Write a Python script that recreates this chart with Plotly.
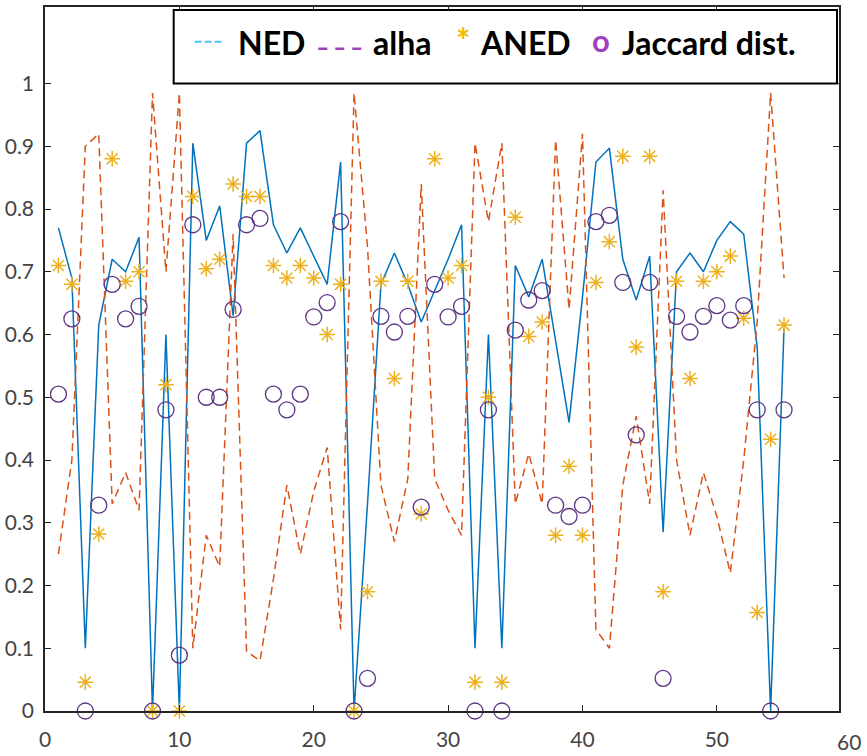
import plotly.graph_objects as go

# ---------------- data ----------------
x_vals = list(range(1, 56))

ned = [0.77, 0.69, 0.10, 0.615, 0.72, 0.70, 0.755, 0.0, 0.60, 0.0,
       0.905, 0.75, 0.805, 0.63, 0.905, 0.925, 0.775, 0.73, 0.77, 0.725,
       0.68, 0.875, 0.0, 0.33, 0.68, 0.73, 0.68, 0.62, 0.67, 0.72,
       0.775, 0.10, 0.60, 0.10, 0.71, 0.66, 0.72, 0.59, 0.46, 0.66,
       0.875, 0.897, 0.72, 0.655, 0.725, 0.285, 0.70, 0.73, 0.70, 0.75,
       0.78, 0.76, 0.58, 0.0, 0.61]

alha = [0.25, 0.40, 0.90, 0.92, 0.33, 0.38, 0.32, 0.985, 0.70, 0.985,
        0.10, 0.28, 0.23, 0.76, 0.095, 0.08, 0.21, 0.36, 0.25, 0.35,
        0.42, 0.13, 0.985, 0.74, 0.36, 0.27, 0.37, 0.84, 0.37, 0.32,
        0.28, 0.905, 0.78, 0.905, 0.33, 0.41, 0.33, 0.91, 0.64, 0.92,
        0.13, 0.10, 0.36, 0.47, 0.33, 0.83, 0.40, 0.28, 0.38, 0.31,
        0.22, 0.40, 0.62, 0.985, 0.69]

aned = [0.71, 0.68, 0.046, 0.282, 0.88, 0.685, 0.70, 0.0, 0.52, 0.0,
        0.82, 0.705, 0.72, 0.84, 0.82, 0.82, 0.71, 0.69, 0.71, 0.69,
        0.60, 0.68, 0.0, 0.19, 0.685, 0.53, 0.685, 0.314, 0.88, 0.69,
        0.71, 0.046, 0.50, 0.046, 0.787, 0.597, 0.62, 0.28, 0.39, 0.28,
        0.683, 0.748, 0.884, 0.58, 0.884, 0.19, 0.685, 0.53, 0.685, 0.70,
        0.725, 0.626, 0.157, 0.433, 0.615]

jaccard = [0.505, 0.625, 0.0, 0.328, 0.68, 0.625, 0.645, 0.0, 0.48, 0.089,
           0.775, 0.50, 0.50, 0.64, 0.775, 0.785, 0.505, 0.48, 0.505, 0.628,
           0.651, 0.78, 0.0, 0.052, 0.629, 0.604, 0.629, 0.325, 0.68, 0.628,
           0.645, 0.0, 0.48, 0.0, 0.607, 0.655, 0.67, 0.328, 0.31, 0.328,
           0.78, 0.79, 0.683, 0.44, 0.683, 0.052, 0.629, 0.604, 0.629, 0.646,
           0.623, 0.646, 0.48, 0.0, 0.48]

y_ticks = [0, 0.1, 0.2, 0.3, 0.4, 0.5, 0.6, 0.7, 0.8, 0.9, 1.0]
y_tick_text = ["0", "0.1", "0.2", "0.3", "0.4", "0.5", "0.6", "0.7", "0.8", "0.9", "1"]
x_ticks = [0, 10, 20, 30, 40, 50]
x_tick_text = ["0", "10", "20", "30", "40", "50"]
x_last_label = "60"
legend_labels = ["NED", "alha", "ANED", "Jaccard dist."]

# ---------------- figure ----------------
W, H = 867, 756
L, R, T, B = 43, 28, 5, 43
pw, ph = W - L - R, H - T - B


def px(xp):
    return (xp - L) / pw


def py(yp):
    return (H - B - yp) / ph


fig = go.Figure()
fig.add_trace(go.Scatter(x=x_vals, y=ned, mode="lines",
                         line=dict(color="#0072BD", width=1.5)))
fig.add_trace(go.Scatter(x=x_vals, y=alha, mode="lines",
                         line=dict(color="#D95319", width=1.5, dash="8px,5px")))
fig.add_trace(go.Scatter(x=x_vals, y=aned, mode="markers", cliponaxis=False,
                         marker=dict(symbol="asterisk-open", size=13,
                                     color="#EDB120",
                                     line=dict(color="#EDB120", width=1.5))))
fig.add_trace(go.Scatter(x=x_vals, y=jaccard, mode="markers", cliponaxis=False,
                         marker=dict(symbol="circle-open", size=16,
                                     color="#5E3585",
                                     line=dict(width=1.3))))

tick_font = dict(family="Lato", size=21, color="#444444")
axis_common = dict(showline=True, linecolor="#262626", linewidth=1.5,
                   mirror="ticks", ticks="inside", ticklen=6,
                   tickcolor="#262626", tickwidth=1.2, showgrid=False,
                   zeroline=False, tickfont=tick_font)

fig.update_layout(
    width=W, height=H,
    margin=dict(l=L, r=R, t=T, b=B),
    plot_bgcolor="white", paper_bgcolor="white",
    showlegend=False,
    xaxis=dict(range=[0, 59.09], tickvals=x_ticks, ticktext=x_tick_text,
               ticklabelstandoff=9, **axis_common),
    yaxis=dict(range=[0, 1.122], tickvals=y_ticks, ticktext=y_tick_text,
               ticklabelstandoff=5, **axis_common),
)

# legend box (drawn as in the source figure)
shapes = [
    dict(type="rect", xref="paper", yref="paper",
         x0=px(172), x1=px(837), y0=py(82), y1=py(8),
         fillcolor="white", line=dict(color="black", width=2), layer="above"),
    dict(type="line", xref="paper", yref="paper",
         x0=px(193), x1=px(223), y0=py(40), y1=py(40),
         line=dict(color="#4FC3F0", width=2, dash="7px,3px"), layer="above"),
    dict(type="line", xref="paper", yref="paper",
         x0=px(317), x1=px(363), y0=py(47), y1=py(47),
         line=dict(color="#A040B8", width=2.5, dash="9px,8px"), layer="above"),
]
fig.update_layout(shapes=shapes)

leg_font = dict(family="Lato", size=32, color="black")
annots = [
    dict(text="<b>" + legend_labels[0] + "</b>", x=px(234), y=py(41)),
    dict(text="<b>" + legend_labels[1] + "</b>", x=px(370), y=py(41)),
    dict(text="<b>" + legend_labels[2] + "</b>", x=px(477), y=py(41)),
    dict(text="<b>" + legend_labels[3] + "</b>", x=px(619), y=py(41)),
]
for a in annots:
    fig.add_annotation(xref="paper", yref="paper", xanchor="left",
                       yanchor="middle", showarrow=False, font=leg_font, **a)

fig.add_annotation(text="<b>*</b>", xref="paper", yref="paper",
                   x=px(462), y=py(38), xanchor="center", yanchor="middle",
                   showarrow=False,
                   font=dict(family="Lato", size=34, color="#F6B800"))
fig.add_annotation(text="<b>o</b>", xref="paper", yref="paper",
                   x=px(600), y=py(38), xanchor="center", yanchor="middle",
                   showarrow=False,
                   font=dict(family="Lato", size=31, color="#A040C0"))

# last x tick label sits just outside the frame in the source
fig.add_annotation(text=x_last_label, xref="paper", yref="paper",
                   x=px(849), y=py(744), xanchor="center", yanchor="middle",
                   showarrow=False, font=tick_font)

fig.write_html(
    "out.html",
    config={"displayModeBar": False},
    post_script="document.body.style.margin='0';"
                "document.body.style.overflow='hidden';",
)
